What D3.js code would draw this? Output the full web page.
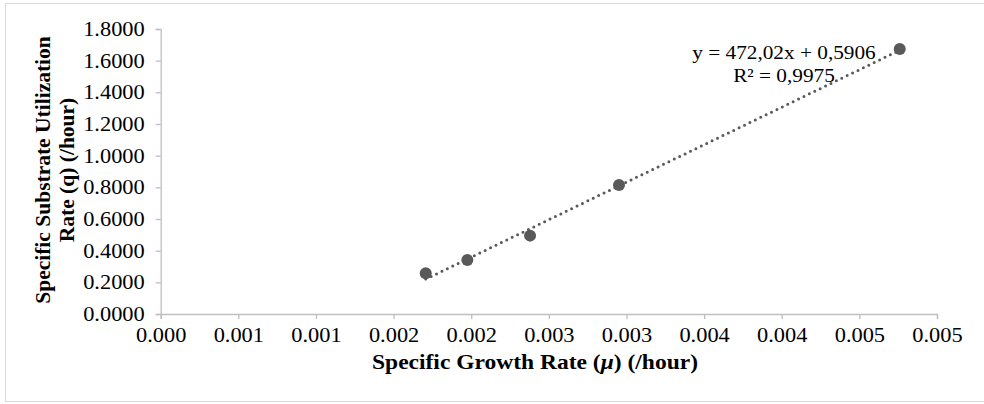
<!DOCTYPE html>
<html>
<head>
<meta charset="utf-8">
<script src="https://cdn.jsdelivr.net/npm/d3@7"></script>
<style>
  body { margin: 0; background: #fff; }
  svg text { font-family: 'Liberation Serif', 'Times New Roman', serif; fill: #000; }
</style>
</head>
<body>
<svg id="chart" width="984" height="404"></svg>
<script>
'use strict';

// data
const growthRate = [0.001707, 0.001975, 0.002379, 0.002952, 0.004760];
const utilRate = [0.257, 0.341, 0.495, 0.815, 1.674];

const xTicks = [0, 0.0005, 0.001, 0.0015, 0.002, 0.0025, 0.003, 0.0035, 0.004, 0.0045, 0.005];
const xTickLabels = ['0.000', '0.001', '0.001', '0.002', '0.002', '0.003', '0.003', '0.004', '0.004', '0.005', '0.005'];
const yTicks = [0, 0.2, 0.4, 0.6, 0.8, 1.0, 1.2, 1.4, 1.6, 1.8];

const eqLines = ['y = 472,02x + 0,5906', 'R² = 0,9975'];
const xTitle = ['Specific Growth Rate (', 'μ', ') (/hour)'];
const yTitle = ['Specific Substrate Utilization', 'Rate (q) (/hour)'];

const svg = d3.select('#chart');
const axisColor = '#bfbfbf';
const markColor = '#595959';
// the source picture is a little wide, so horizontal text gets stretched
const stretch = 1.12;

// chart border
svg.append('rect')
  .attr('x', 5.5)
  .attr('y', 3.5)
  .attr('width', 990)
  .attr('height', 398)
  .attr('fill', '#fff')
  .attr('stroke', '#d9d9d9');

const x = d3.scaleLinear().domain([0, 0.005]).range([160.7, 937]);
const y = d3.scaleLinear().domain([0, 1.8]).range([314, 29]);

// x axis
const xAxis = svg.append('g')
  .attr('transform', 'translate(0,' + y(0) + ')')
  .call(d3.axisBottom(x)
    .tickValues(xTicks)
    .tickSize(5)
    .tickPadding(9)
    .tickFormat(function(d, i) {
      return xTickLabels[i];
    }));
xAxis.select('.domain').attr('stroke', axisColor).attr('stroke-width', 1.3);
xAxis.selectAll('.tick line').attr('stroke', axisColor).attr('stroke-width', 1.3);
xAxis.selectAll('.tick text')
  .style('font-size', '20px')
  .attr('fill', '#000')
  .attr('transform', 'scale(' + stretch + ',1)');

// y axis
const yAxis = svg.append('g')
  .attr('transform', 'translate(' + x(0) + ',0)')
  .call(d3.axisLeft(y)
    .tickValues(yTicks)
    .tickSize(5)
    .tickPadding(11)
    .tickFormat(d3.format('.4f')));
yAxis.select('.domain').attr('stroke', axisColor).attr('stroke-width', 1.3);
yAxis.selectAll('.tick line').attr('stroke', axisColor).attr('stroke-width', 1.3);
yAxis.selectAll('.tick text')
  .style('font-size', '20px')
  .attr('fill', '#000')
  .attr('x', -16 / stretch)
  .attr('transform', 'scale(' + stretch + ',1)');

// linear trendline (least squares over the points)
const points = growthRate.map(function(d, i) {
  return {x: d, y: utilRate[i]};
});
const mx = d3.mean(points, function(d) { return d.x; });
const my = d3.mean(points, function(d) { return d.y; });
const slope = d3.sum(points, function(d) { return (d.x - mx) * (d.y - my); }) /
  d3.sum(points, function(d) { return (d.x - mx) * (d.x - mx); });
const intercept = my - slope * mx;
const xExt = d3.extent(growthRate);

svg.append('line')
  .attr('x1', x(xExt[0]))
  .attr('y1', y(slope * xExt[0] + intercept))
  .attr('x2', x(xExt[1]))
  .attr('y2', y(slope * xExt[1] + intercept))
  .attr('stroke', markColor)
  .attr('stroke-width', 3)
  .attr('stroke-linecap', 'round')
  .attr('stroke-dasharray', '0,6');

// markers
svg.selectAll('circle.pt')
  .data(points)
  .enter()
  .append('circle')
  .attr('class', 'pt')
  .attr('cx', function(d) { return x(d.x); })
  .attr('cy', function(d) { return y(d.y); })
  .attr('r', 6)
  .attr('fill', markColor);

// equation label
const eqG = svg.append('g')
  .attr('transform', 'translate(784,0) scale(' + stretch + ',1)');
eqG.selectAll('text')
  .data(eqLines)
  .enter()
  .append('text')
  .attr('x', 0)
  .attr('y', function(d, i) { return 59 + i * 23; })
  .attr('text-anchor', 'middle')
  .style('font-size', '19px')
  .text(function(d) { return d; });

// axis titles
const xt = svg.append('g')
  .attr('transform', 'translate(535,369) scale(' + stretch + ',1)')
  .append('text')
  .attr('x', 0)
  .attr('y', 0)
  .attr('text-anchor', 'middle')
  .style('font-size', '21px')
  .style('font-weight', 'bold');
xt.selectAll('tspan')
  .data(xTitle)
  .enter()
  .append('tspan')
  .style('font-style', function(d, i) { return i === 1 ? 'italic' : 'normal'; })
  .text(function(d) { return d; });

const yTitleG = svg.append('g')
  .attr('transform', 'translate(0,170) rotate(-90)');
yTitleG.selectAll('text')
  .data(yTitle)
  .enter()
  .append('text')
  .attr('x', 0)
  .attr('y', function(d, i) { return 50 + i * 24; })
  .attr('text-anchor', 'middle')
  .style('font-size', '21.5px')
  .style('font-weight', 'bold')
  .text(function(d) { return d; });
</script>
</body>
</html>
